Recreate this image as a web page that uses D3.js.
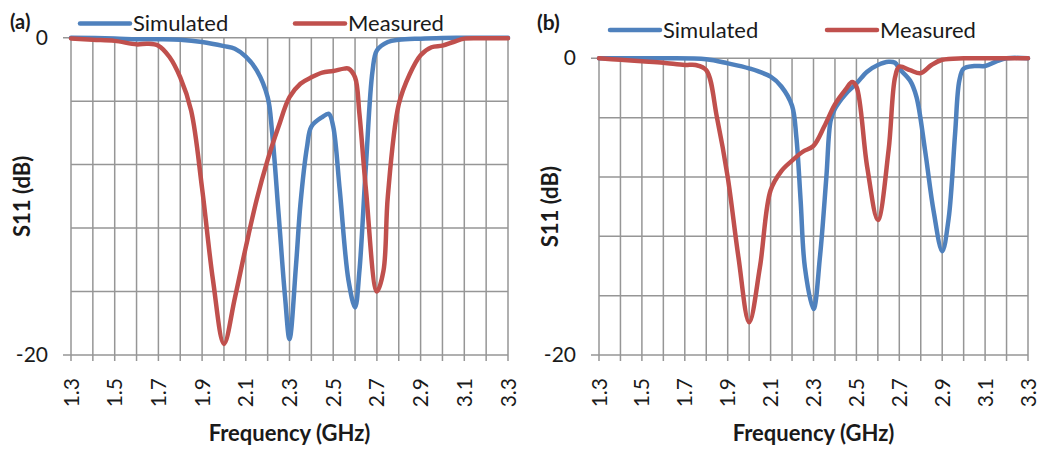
<!DOCTYPE html>
<html>
<head>
<meta charset="utf-8">
<script src="https://cdn.jsdelivr.net/npm/d3@7"></script>
<style>
  html, body { margin: 0; padding: 0; background: #ffffff; }
  svg { display: block; }
  text { font-family: Lato, "Open Sans", "DejaVu Sans", sans-serif; fill: #1a1a1a; }
</style>
</head>
<body>
<svg id="chart" width="1044" height="452"></svg>
<script>
// ---------------- DATA ----------------
const seriesNames = ["Simulated", "Measured"];
const xTickLabels = ["1.3", "1.5", "1.7", "1.9", "2.1", "2.3", "2.5", "2.7", "2.9", "3.1", "3.3"];
const yTickLabels = ["0", "-20"];
const yTickValues = [0, -20];
const yGridValues = [0, -4, -8, -12, -16, -20];
const panelLabels = ["(a)", "(b)"];

// Panel (a) – Simulated
const freqA_sim = [1.3, 1.5, 1.6, 1.7, 1.8, 1.9, 2.0, 2.05, 2.1, 2.15, 2.2, 2.22, 2.25, 2.28, 2.3, 2.33, 2.35, 2.38, 2.4, 2.45, 2.48, 2.5, 2.53, 2.57, 2.6, 2.62, 2.65, 2.68, 2.7, 2.75, 2.8, 2.9, 3.0, 3.1, 3.2, 3.3];
const s11A_sim  = [0, -0.05, -0.1, -0.1, -0.13, -0.27, -0.53, -0.7, -1.2, -2.06, -3.75, -5.9, -11.1, -16.4, -19.0, -14.3, -10.5, -6.9, -5.6, -5.0, -4.8, -5.6, -9.6, -15.3, -17.0, -14.7, -8.0, -2.1, -0.8, -0.27, -0.13, -0.06, -0.02, 0, 0, 0];

// Panel (a) – Measured
const freqA_meas = [1.3, 1.4, 1.5, 1.6, 1.65, 1.7, 1.75, 1.8, 1.85, 1.9, 1.95, 2.0, 2.05, 2.1, 2.15, 2.2, 2.25, 2.3, 2.35, 2.4, 2.45, 2.5, 2.55, 2.57, 2.6, 2.62, 2.65, 2.7, 2.73, 2.75, 2.8, 2.85, 2.9, 2.95, 3.0, 3.05, 3.1, 3.2, 3.3];
const s11A_meas  = [-0.05, -0.13, -0.2, -0.42, -0.38, -0.5, -1.2, -2.5, -4.6, -9.5, -15.3, -19.3, -16.4, -13.2, -10.2, -7.7, -5.6, -3.75, -2.9, -2.5, -2.2, -2.1, -1.95, -1.95, -2.5, -4.8, -9.6, -16.0, -14.7, -10.0, -4.2, -2.3, -1.1, -0.6, -0.5, -0.27, -0.06, -0.04, -0.04];

// Panel (b) – Simulated
const freqB_sim = [1.3, 1.6, 1.8, 1.9, 2.0, 2.1, 2.15, 2.2, 2.22, 2.24, 2.26, 2.3, 2.33, 2.36, 2.38, 2.4, 2.45, 2.5, 2.55, 2.6, 2.65, 2.68, 2.7, 2.75, 2.78, 2.82, 2.86, 2.9, 2.93, 2.96, 2.98, 3.0, 3.05, 3.1, 3.15, 3.2, 3.3];
const s11B_sim  = [0, 0, -0.07, -0.34, -0.68, -1.24, -1.9, -3.2, -5.3, -9.6, -14.1, -16.9, -13.4, -8.0, -4.2, -3.4, -2.4, -1.7, -0.9, -0.45, -0.23, -0.3, -0.7, -1.5, -2.6, -6.2, -10.3, -13.0, -10.8, -5.1, -1.5, -0.7, -0.52, -0.52, -0.23, 0, 0];

// Panel (b) – Measured
const freqB_meas = [1.3, 1.4, 1.5, 1.6, 1.7, 1.75, 1.8, 1.85, 1.9, 1.95, 2.0, 2.05, 2.1, 2.15, 2.2, 2.25, 2.3, 2.35, 2.4, 2.45, 2.48, 2.5, 2.55, 2.6, 2.65, 2.68, 2.7, 2.75, 2.8, 2.85, 2.9, 3.0, 3.1, 3.2, 3.3];
const s11B_meas  = [0, -0.1, -0.2, -0.3, -0.45, -0.45, -0.8, -4.0, -8.0, -13.4, -17.8, -14.1, -8.9, -7.6, -6.9, -6.3, -5.9, -4.6, -3.1, -2.1, -1.6, -1.9, -7.3, -10.9, -6.2, -1.3, -0.56, -0.8, -1.0, -0.45, -0.1, 0, 0, 0, 0];

// ---------------- DRAW ----------------
const svg = d3.select("#chart");
const BLUE = "#4F81BD", RED = "#C0504D", GRID = "#969696";

const panels = [
  { label: panelLabels[0], x0: 71, x1: 508, y0: 37.7, y1: 355,
    sim: [freqA_sim, s11A_sim], meas: [freqA_meas, s11A_meas],
    labelPos: [10, 29], labelSize: 20,
    legend: { y: 23.5, simX: 80, measX: 295, textDy: 7.5 },
    yTitleX: 22 },
  { label: panelLabels[1], x0: 599, x1: 1028, y0: 58.3, y1: 355,
    sim: [freqB_sim, s11B_sim], meas: [freqB_meas, s11B_meas],
    labelPos: [537, 30], labelSize: 21,
    legend: { y: 30, simX: 610, measX: 827, textDy: 7.5 },
    yTitleX: 550 }
];

panels.forEach(p => {
  const g = svg.append("g");
  const x = d3.scaleLinear().domain([1.3, 3.3]).range([p.x0, p.x1]);
  const y = d3.scaleLinear().domain([-20, 0]).range([p.y1, p.y0]);

  // vertical grid lines (every 0.1 GHz), extend as ticks through x axis
  const xGrid = d3.range(0, 21).map(i => +(1.3 + i * 0.1).toFixed(2));
  g.append("g").selectAll("line").data(xGrid).join("line")
    .attr("x1", d => x(d)).attr("x2", d => x(d))
    .attr("y1", y(0)).attr("y2", y(-20) + 6)
    .attr("stroke", GRID).attr("stroke-width", 1.5);

  // horizontal grid lines
  g.append("g").selectAll("line").data(yGridValues).join("line")
    .attr("x1", d => yTickValues.includes(d) ? x(1.3) - 8 : x(1.3))
    .attr("x2", x(3.3))
    .attr("y1", d => y(d)).attr("y2", d => y(d))
    .attr("stroke", GRID).attr("stroke-width", 1.5);

  // y tick labels
  g.append("g").selectAll("text").data(yTickValues).join("text")
    .attr("x", x(1.3) - 23).attr("y", d => y(d))
    .attr("dy", "0.33em")
    .attr("text-anchor", "end")
    .style("font-size", "21px")
    .text((d, i) => yTickLabels[i]);

  // x tick labels (rotated)
  g.append("g").selectAll("text").data(xTickLabels).join("text")
    .attr("transform", d => `translate(${x(+d)},${y(-20) + 23}) rotate(-90)`)
    .attr("dy", "0.36em")
    .attr("text-anchor", "end")
    .style("font-size", "21px")
    .text(d => d);

  // axis titles
  g.append("text")
    .attr("x", (p.x0 + p.x1) / 2).attr("y", 441)
    .attr("text-anchor", "middle")
    .style("font-size", "22px").style("font-weight", "bold")
    .text("Frequency (GHz)");
  g.append("text")
    .attr("transform", `translate(${p.yTitleX},${(p.y0 + p.y1) / 2}) rotate(-90)`)
    .attr("dy", "0.36em")
    .attr("text-anchor", "middle")
    .style("font-size", "22px").style("font-weight", "bold")
    .text("S11 (dB)");

  // series
  const line = d3.line().x(d => x(d[0])).y(d => y(d[1])).curve(d3.curveCatmullRom.alpha(0.5));
  const simPts = d3.zip(p.sim[0], p.sim[1]);
  const measPts = d3.zip(p.meas[0], p.meas[1]);
  g.append("path").datum(simPts).attr("d", line)
    .attr("fill", "none").attr("stroke", BLUE).attr("stroke-width", 4.5)
    .attr("stroke-linejoin", "round").attr("stroke-linecap", "round");
  g.append("path").datum(measPts).attr("d", line)
    .attr("fill", "none").attr("stroke", RED).attr("stroke-width", 4.5)
    .attr("stroke-linejoin", "round").attr("stroke-linecap", "round");

  // legend
  const L = p.legend;
  [[L.simX, BLUE, seriesNames[0]], [L.measX, RED, seriesNames[1]]].forEach(([lx, c, name]) => {
    g.append("line").attr("x1", lx).attr("x2", lx + 50)
      .attr("y1", L.y).attr("y2", L.y)
      .attr("stroke", c).attr("stroke-width", 4.5).attr("stroke-linecap", "round");
    g.append("text").attr("x", lx + 53).attr("y", L.y + L.textDy)
      .style("font-size", "22px").text(name);
  });

  // panel label
  g.append("text").attr("x", p.labelPos[0]).attr("y", p.labelPos[1])
    .style("font-size", p.labelSize + "px").style("font-weight", "bold")
    .text(p.label);
});
</script>
</body>
</html>
